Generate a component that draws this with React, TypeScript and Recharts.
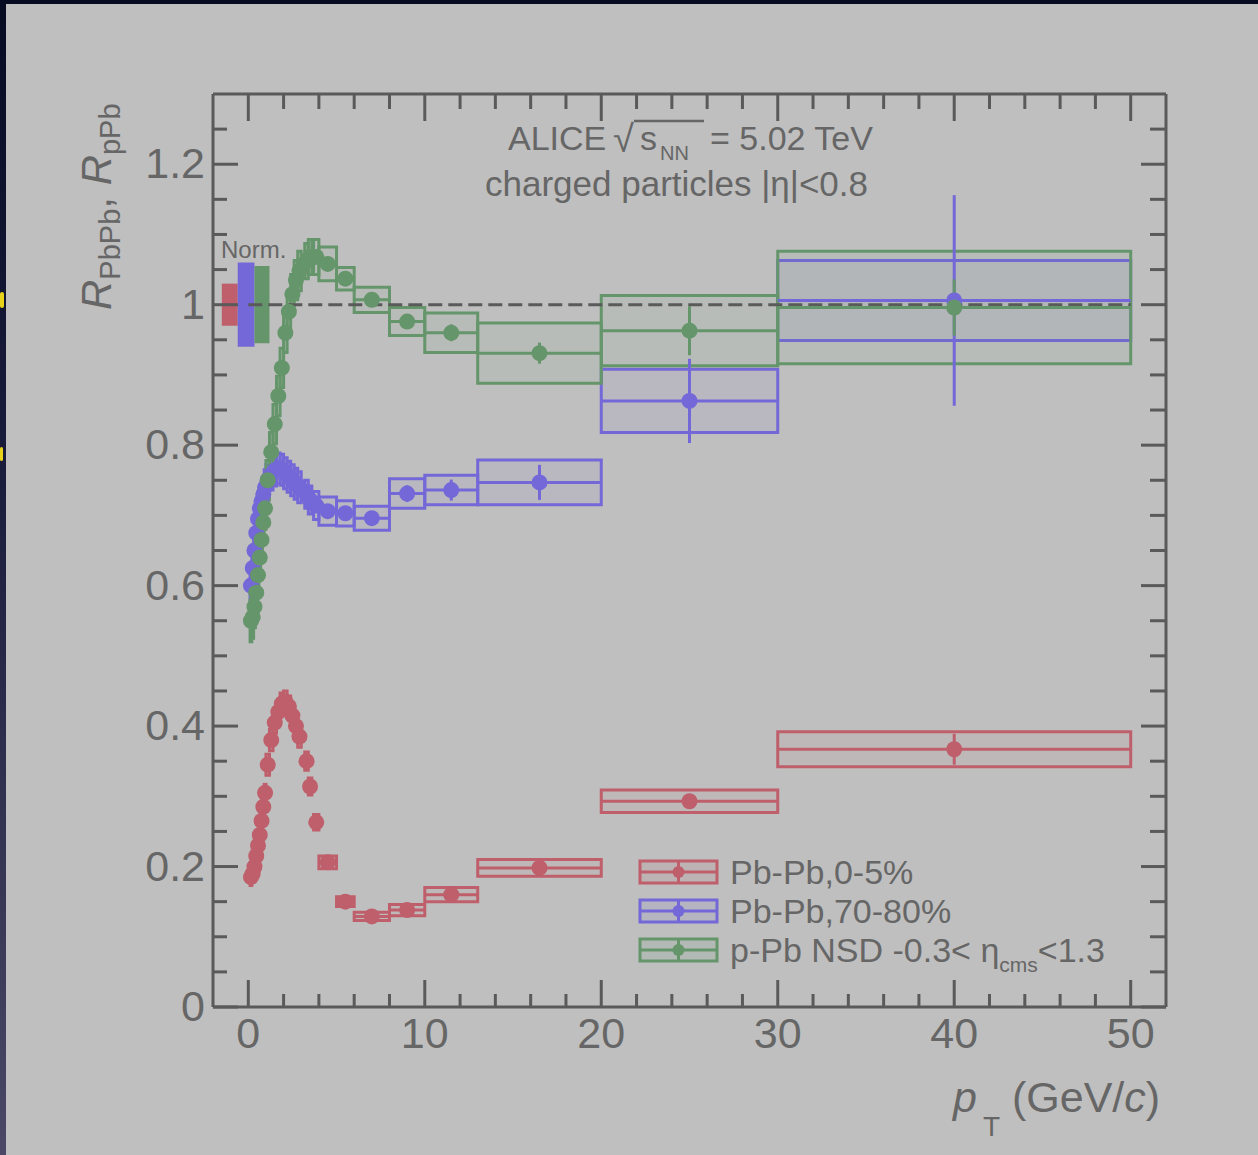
import React from 'react';
import { ComposedChart, XAxis, YAxis, Scatter, ErrorBar, ReferenceArea, ReferenceLine, Legend } from 'recharts';

// ---------- data ----------
const ptValues = [0.15, 0.25, 0.35, 0.45, 0.55, 0.65, 0.75, 0.85, 0.95, 1.1, 1.3, 1.5, 1.7, 1.9, 2.1, 2.3, 2.5, 2.7, 2.9, 3.3, 3.5, 3.85, 4.5, 5.5, 7, 9, 11.5, 16.5, 25, 40];
const ptHalfWidths = [0.05, 0.05, 0.05, 0.05, 0.05, 0.05, 0.05, 0.05, 0.05, 0.1, 0.1, 0.1, 0.1, 0.1, 0.1, 0.1, 0.1, 0.1, 0.1, 0.1, 0.1, 0.15, 0.5, 0.5, 1, 1, 1.5, 3.5, 5, 10];

const redValues = [0.185, 0.19, 0.2, 0.215, 0.23, 0.245, 0.265, 0.285, 0.305, 0.345, 0.38, 0.405, 0.42, 0.432, 0.435, 0.428, 0.415, 0.4, 0.385, 0.35, 0.314, 0.263, 0.206, 0.15, 0.129, 0.138, 0.16, 0.198, 0.293, 0.367];
const redStat = [0.002, 0.002, 0.002, 0.002, 0.002, 0.002, 0.002, 0.002, 0.002, 0.002, 0.002, 0.002, 0.002, 0.002, 0.002, 0.002, 0.002, 0.002, 0.002, 0.002, 0.002, 0.002, 0.002, 0.003, 0.003, 0.005, 0.006, 0.006, 0.01, 0.022];
const redSys = [0.012, 0.012, 0.012, 0.012, 0.012, 0.012, 0.012, 0.012, 0.012, 0.015, 0.015, 0.015, 0.015, 0.015, 0.015, 0.015, 0.015, 0.015, 0.015, 0.013, 0.012, 0.011, 0.009, 0.007, 0.006, 0.008, 0.01, 0.012, 0.016, 0.025];

const blueValues = [0.6, 0.625, 0.65, 0.675, 0.695, 0.71, 0.72, 0.73, 0.74, 0.75, 0.758, 0.764, 0.767, 0.765, 0.76, 0.755, 0.75, 0.745, 0.74, 0.73, 0.722, 0.714, 0.706, 0.703, 0.696, 0.731, 0.736, 0.747, 0.863, 1.006];
const blueStat = [0.003, 0.003, 0.003, 0.003, 0.003, 0.003, 0.003, 0.003, 0.003, 0.003, 0.003, 0.003, 0.003, 0.003, 0.003, 0.003, 0.003, 0.003, 0.003, 0.003, 0.003, 0.003, 0.004, 0.005, 0.008, 0.012, 0.015, 0.025, 0.06, 0.15];
const blueSys = [0.025, 0.025, 0.025, 0.025, 0.025, 0.025, 0.025, 0.025, 0.025, 0.022, 0.022, 0.022, 0.022, 0.022, 0.022, 0.022, 0.022, 0.022, 0.022, 0.02, 0.02, 0.02, 0.02, 0.018, 0.017, 0.021, 0.021, 0.032, 0.045, 0.057];

const greenValues = [0.55, 0.555, 0.57, 0.59, 0.615, 0.64, 0.665, 0.69, 0.71, 0.75, 0.79, 0.83, 0.87, 0.91, 0.96, 0.99, 1.015, 1.035, 1.048, 1.062, 1.068, 1.068, 1.058, 1.037, 1.007, 0.976, 0.96, 0.931, 0.963, 0.996];
const greenStat = [0.002, 0.002, 0.002, 0.002, 0.002, 0.002, 0.002, 0.002, 0.002, 0.002, 0.002, 0.002, 0.002, 0.002, 0.002, 0.002, 0.002, 0.002, 0.002, 0.002, 0.002, 0.002, 0.003, 0.004, 0.005, 0.008, 0.012, 0.015, 0.035, 0.04];
const greenSys = [0.03, 0.03, 0.03, 0.03, 0.03, 0.03, 0.03, 0.03, 0.03, 0.028, 0.028, 0.028, 0.028, 0.028, 0.028, 0.028, 0.028, 0.028, 0.028, 0.025, 0.025, 0.025, 0.024, 0.016, 0.018, 0.02, 0.028, 0.043, 0.05, 0.08];

const normLo = [-1.5, -0.6, 0.35];
const normHi = [-0.6, 0.35, 1.2];
const normSys = [0.03, 0.06, 0.055];

const seriesNames = ['Pb-Pb,0-5%', 'Pb-Pb,70-80%', 'p-Pb NSD -0.3< η'];

const xDomain = [-2, 52];
const yDomain = [0, 1.3];
const xMajorTicks = [0, 10, 20, 30, 40, 50];
const xTickLabels = ['0', '10', '20', '30', '40', '50'];
const xMinorTicks = [2, 4, 6, 8, 12, 14, 16, 18, 22, 24, 26, 28, 32, 34, 36, 38, 42, 44, 46, 48];
const yMajorTicks = [0, 0.2, 0.4, 0.6, 0.8, 1, 1.2];
const yTickLabels = ['0', '0.2', '0.4', '0.6', '0.8', '1', '1.2'];
const yMinorTicks = [0.05, 0.1, 0.15, 0.25, 0.3, 0.35, 0.45, 0.5, 0.55, 0.65, 0.7, 0.75, 0.85, 0.9, 0.95, 1.05, 1.1, 1.15, 1.25];
const unityLine = { from: 0, to: 50, y: 1 };

// ---------- style ----------
const FONT = '"Liberation Sans", Arial, Helvetica, sans-serif';
const BG = '#bfbfbf';
const AXIS = '#5a5a5a';
const TEXT = '#666666';
const RED = '#bf5f6b';
const BLUE = '#7468d8';
const GREEN = '#65956a';
const COLORS = [RED, BLUE, GREEN];

const build = (vals: number[], stat: number[], sys: number[]) =>
  ptValues.map((x, i) => ({
    x,
    y: vals[i],
    ex: ptHalfWidths[i],
    ey: stat[i],
    lo: x - ptHalfWidths[i],
    hi: x + ptHalfWidths[i],
    ylo: vals[i] - sys[i],
    yhi: vals[i] + sys[i],
  }));

const seriesData = [
  build(redValues, redStat, redSys),
  build(blueValues, blueStat, blueSys),
  build(greenValues, greenStat, greenSys),
];

const allXTicks = [...xMajorTicks, ...xMinorTicks].sort((a, b) => a - b);
const allYTicks = [...yMajorTicks, ...yMinorTicks].sort((a, b) => a - b);

const BottomTick = (props: any) => {
  const { x, y, payload } = props;
  const i = xMajorTicks.indexOf(payload.value);
  const major = i >= 0;
  return (
    <g>
      <line x1={x} x2={x} y1={y} y2={y - (major ? 27 : 13)} stroke={AXIS} strokeWidth={3} />
      {major && (
        <text x={x} y={y + 41} textAnchor="middle" fontSize={43} fill={TEXT} fontFamily={FONT}>
          {xTickLabels[i]}
        </text>
      )}
    </g>
  );
};

const TopTick = (props: any) => {
  const { x, y, payload } = props;
  const major = xMajorTicks.indexOf(payload.value) >= 0;
  return <line x1={x} x2={x} y1={y} y2={y + (major ? 27 : 15)} stroke={AXIS} strokeWidth={3} />;
};

const LeftTick = (props: any) => {
  const { x, y, payload } = props;
  const i = yMajorTicks.indexOf(payload.value);
  const major = i >= 0;
  return (
    <g>
      <line x1={x} x2={x + (major ? 25 : 14)} y1={y} y2={y} stroke={AXIS} strokeWidth={3} />
      {major && (
        <text x={x - 8} y={y + 14} textAnchor="end" fontSize={43} fill={TEXT} fontFamily={FONT}>
          {yTickLabels[i]}
        </text>
      )}
    </g>
  );
};

const RightTick = (props: any) => {
  const { x, y, payload } = props;
  const major = yMajorTicks.indexOf(payload.value) >= 0;
  return <line x1={x} x2={x - (major ? 25 : 16)} y1={y} y2={y} stroke={AXIS} strokeWidth={3} />;
};

const makeDot = (color: string) => (p: any) => <circle cx={p.cx} cy={p.cy} r={8} fill={color} />;

const LegendContent = () => {
  const rows = [22, 61, 100];
  return (
    <svg width={540} height={130} style={{ overflow: 'visible' }}>
      {seriesNames.map((name, i) => {
        const cy = rows[i];
        const c = COLORS[i];
        return (
          <g key={name}>
            <rect x={10} y={cy - 11} width={77} height={22} fill={c} fillOpacity={0.12} stroke={c} strokeWidth={3} />
            <line x1={10} x2={87} y1={cy} y2={cy} stroke={c} strokeWidth={3} />
            <line x1={48.5} x2={48.5} y1={cy - 11} y2={cy + 11} stroke={c} strokeWidth={3} />
            <circle cx={48.5} cy={cy} r={6} fill={c} />
            <text x={100} y={cy + 12} fontSize={34} fill={TEXT} fontFamily={FONT}>
              {name}
              {i === 2 && (
                <>
                  <tspan fontSize={21} dy={10}>cms</tspan>
                  <tspan dy={-10}>{'<1.3'}</tspan>
                </>
              )}
            </text>
          </g>
        );
      })}
    </svg>
  );
};

export default function App() {
  return (
    <div style={{ position: 'absolute', left: 0, top: 0, width: 1258, height: 1155, overflow: 'hidden', background: 'linear-gradient(180deg, #070b22 0%, #1a1c3c 40%, #4a4866 100%)' }}>
      <div style={{ position: 'absolute', left: 6, top: 4, right: 0, bottom: 0, background: BG }} />
      <div style={{ position: 'absolute', left: 0, top: 292, width: 4, height: 16, background: '#e8d21a', borderRadius: 3 }} />
      <div style={{ position: 'absolute', left: 0, top: 447, width: 3, height: 14, background: '#e8d21a', borderRadius: 3 }} />
      <div style={{ position: 'absolute', left: 0, top: 0 }}>
        <ComposedChart width={1258} height={1155} margin={{ top: 74, right: 72, bottom: 0, left: 0 }}>
          <XAxis
            xAxisId={0}
            dataKey="x"
            type="number"
            domain={xDomain}
            allowDataOverflow
            orientation="bottom"
            height={148}
            ticks={allXTicks}
            interval={0}
            tickSize={0}
            tickMargin={0}
            tickLine={false}
            tick={BottomTick}
            axisLine={{ stroke: AXIS, strokeWidth: 3 }}
          />
          <XAxis
            xAxisId="top"
            dataKey="x"
            type="number"
            domain={xDomain}
            allowDataOverflow
            orientation="top"
            height={20}
            ticks={allXTicks}
            interval={0}
            tickSize={0}
            tickMargin={0}
            tickLine={false}
            tick={TopTick}
            axisLine={{ stroke: AXIS, strokeWidth: 3 }}
          />
          <YAxis
            yAxisId={0}
            dataKey="y"
            type="number"
            domain={yDomain}
            allowDataOverflow
            orientation="left"
            width={213}
            ticks={allYTicks}
            interval={0}
            tickSize={0}
            tickMargin={0}
            tickLine={false}
            tick={LeftTick}
            axisLine={{ stroke: AXIS, strokeWidth: 3 }}
          />
          <YAxis
            yAxisId="right"
            dataKey="y"
            type="number"
            domain={yDomain}
            allowDataOverflow
            orientation="right"
            width={20}
            ticks={allYTicks}
            interval={0}
            tickSize={0}
            tickMargin={0}
            tickLine={false}
            tick={RightTick}
            axisLine={{ stroke: AXIS, strokeWidth: 3 }}
          />

          {normLo.map((lo, i) => (
            <ReferenceArea
              key={'norm' + i}
              x1={lo}
              x2={normHi[i]}
              y1={1 - normSys[i]}
              y2={1 + normSys[i]}
              fill={COLORS[i]}
              fillOpacity={1}
              stroke="none"
              ifOverflow="visible"
            />
          ))}

          <ReferenceLine
            segment={[{ x: unityLine.from, y: unityLine.y }, { x: unityLine.to, y: unityLine.y }]}
            stroke={AXIS}
            strokeWidth={3}
            strokeDasharray="14 6"
            ifOverflow="visible"
          />

          {seriesData.map((data, s) =>
            data.map((d, i) => (
              <ReferenceArea
                key={'box' + s + '-' + i}
                x1={d.lo}
                x2={d.hi}
                y1={d.ylo}
                y2={d.yhi}
                fill={COLORS[s]}
                fillOpacity={0.07}
                stroke={COLORS[s]}
                strokeWidth={3}
                ifOverflow="visible"
              />
            ))
          )}

          {seriesData.map((data, s) => (
            <Scatter
              key={'sc' + s}
              name={seriesNames[s]}
              data={data}
              dataKey="y"
              fill={COLORS[s]}
              shape={makeDot(COLORS[s])}
              isAnimationActive={false}
            >
              <ErrorBar dataKey="ex" direction="x" width={0} stroke={COLORS[s]} strokeWidth={3} isAnimationActive={false} />
              <ErrorBar dataKey="ey" direction="y" width={0} stroke={COLORS[s]} strokeWidth={3} isAnimationActive={false} />
            </Scatter>
          ))}

          <Legend
            layout="vertical"
            align="center"
            verticalAlign="middle"
            content={LegendContent}
            wrapperStyle={{ position: 'absolute', left: 630, top: 850, width: 540, height: 130 }}
          />
        </ComposedChart>
      </div>

      <svg width={1258} height={1155} style={{ position: 'absolute', left: 0, top: 0, pointerEvents: 'none' }}>
        <g fontFamily={FONT} fill={TEXT}>
          <text x={508} y={150} fontSize={34}>ALICE</text>
          <text x={613} y={152} fontSize={38}>√</text>
          <line x1={634} x2={704} y1={121} y2={121} stroke={TEXT} strokeWidth={2.5} />
          <text x={640} y={150} fontSize={34}>s</text>
          <text x={660} y={160} fontSize={20}>NN</text>
          <text x={710} y={150} fontSize={34}>= 5.02 TeV</text>
          <text x={485} y={196} fontSize={35}>charged particles |η|&lt;0.8</text>
          <text x={221} y={258} fontSize={24}>Norm.</text>
          <text x={953} y={1112} fontSize={43} fontStyle="italic">p</text>
          <text x={983} y={1136} fontSize={28}>T</text>
          <text x={1012} y={1112} fontSize={43}>
            (GeV/<tspan fontStyle="italic">c</tspan>)
          </text>
          <text transform="translate(111,310) rotate(-90)" fontSize={42}>
            <tspan fontStyle="italic">R</tspan>
            <tspan fontSize={29} dy={9}>PbPb</tspan>
            <tspan dy={-9}>, </tspan>
            <tspan fontStyle="italic">R</tspan>
            <tspan fontSize={29} dy={9}>pPb</tspan>
          </text>
        </g>
      </svg>
    </div>
  );
}
